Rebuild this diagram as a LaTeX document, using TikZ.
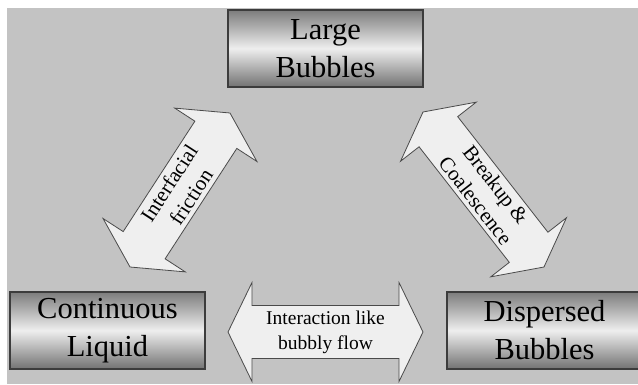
\documentclass[tikz,border=0pt]{standalone}
\usepackage{fontspec}
\setmainfont{Liberation Serif}
\usetikzlibrary{calc}

\definecolor{bggray}{HTML}{C3C3C3}
\definecolor{boxedge}{HTML}{3C3C3C}
\definecolor{metaldark}{HTML}{7C7C7C}
\definecolor{metallight}{HTML}{EEEEEE}
\definecolor{arrowfill}{HTML}{EFEFEF}
\definecolor{arrowedge}{HTML}{4A4A4A}

\tikzset{
  metalbox/.style={draw=boxedge, line width=1.2pt,
    top color=metaldark, bottom color=metaldark!92!black, middle color=metallight,
    minimum width=195pt, minimum height=77pt, inner sep=0pt, align=center,
    font=\fontsize{30.5}{38}\selectfont},
  fatarrow/.style={fill=arrowfill, draw=arrowedge, line width=0.8pt, line join=miter},
  arrowtext/.style={align=center, inner sep=0pt, font=\fontsize{21}{26}\selectfont}
}

% Broad two-headed arrow between the tips #1 and #2:
% #3 head length, #4 half width of the heads, #5 half width of the shaft
\newcommand{\fatdoublearrow}[5]{%
  \path ($(#1)!#3!(#2)$) coordinate (#1-base)
        ($(#2)!#3!(#1)$) coordinate (#2-base);
  \draw[fatarrow] (#1)
    -- ($(#1-base)!#4!90:(#2)$) -- ($(#1-base)!#5!90:(#2)$)
    -- ($(#2-base)!#5!-90:(#1)$) -- ($(#2-base)!#4!-90:(#1)$)
    -- (#2)
    -- ($(#2-base)!#4!90:(#1)$) -- ($(#2-base)!#5!90:(#1)$)
    -- ($(#1-base)!#5!-90:(#2)$) -- ($(#1-base)!#4!-90:(#2)$)
    -- cycle;}

\begin{document}
\begin{tikzpicture}[x=1pt,y=1pt]
\useasboundingbox (0,0) rectangle (638,384);
\clip (0,0) rectangle (638,384);
\fill[white] (0,0) rectangle (638,384);
\fill[bggray] (7,0) rectangle (638,376);

% the three phases
\node[metalbox] (large)     at (325.5,335.5) {Large\\Bubbles};
\node[metalbox] (liquid)    at (107.5,53.5)  {Continuous\\Liquid};
\node[metalbox] (dispersed) at (544.5,53.5)  {Dispersed\\Bubbles};

% arrow tips
\coordinate (fric-a) at (130,117);
\coordinate (fric-b) at (230,271);
\coordinate (coal-a) at (423,272);
\coordinate (coal-b) at (544,117);
\coordinate (bub-a)  at (228,52);
\coordinate (bub-b)  at (423,52);

% interactions
\fatdoublearrow{fric-a}{fric-b}{26pt}{49pt}{25pt}
\fatdoublearrow{coal-a}{coal-b}{25pt}{48pt}{24.5pt}
\fatdoublearrow{bub-a}{bub-b}{24pt}{49.5pt}{26.5pt}

\path (fric-a) -- node[arrowtext, sloped, pos=0.5] (fric-label) {Interfacial\\friction} (fric-b);
\path (coal-a) -- node[arrowtext, sloped, pos=0.52] (coal-label) {Breakup \&\\Coalescence} (coal-b);
\path (bub-a) -- node[arrowtext, font=\fontsize{19.5}{25}\selectfont] (bub-label) {Interaction like\\bubbly flow} (bub-b);
\end{tikzpicture}
\end{document}
